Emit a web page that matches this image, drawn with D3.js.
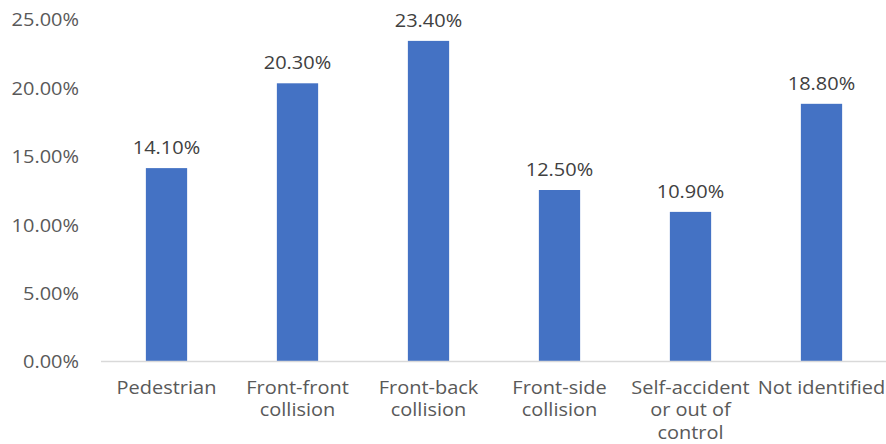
<!DOCTYPE html>
<html>
<head>
<meta charset="utf-8">
<script src="https://cdn.jsdelivr.net/npm/d3@7"></script>
<style>
  html, body { margin: 0; padding: 0; background: #fff; }
  svg text { font-family: "Open Sans", "Noto Sans", sans-serif; }
</style>
</head>
<body>
<svg id="chart" width="886" height="444"></svg>
<script>
// Collision types and their share of accidents
const categories = ["Pedestrian", "Front-front collision", "Front-back collision", "Front-side collision", "Self-accident or out of control", "Not identified"];
const shares = [0.141, 0.203, 0.234, 0.125, 0.109, 0.188];
const yTicks = [0, 0.05, 0.10, 0.15, 0.20, 0.25];

const svg = d3.select("#chart");
const W = 886, H = 444;
const plot = { left: 101, right: 887, top: 19, bottom: 361 };

const x = d3.scaleBand()
  .domain(categories)
  .range([plot.left, plot.right])
  .paddingInner(0.685)
  .paddingOuter(0.3425);

const y = d3.scaleLinear()
  .domain([0, 0.25])
  .range([plot.bottom, plot.top]);

const pct = d3.format(".2%");
const fontSize = 18.5;
const stretchX = 1.08;
const stretch = `scale(${stretchX},1)`;
const fontFamily = "'Open Sans', 'Noto Sans', sans-serif";

// Y axis labels (no axis line, no gridlines)
const yAxis = d3.axisLeft(y).tickValues(yTicks).tickFormat(pct).tickSize(0).tickPadding(0);
const gy = svg.append("g").attr("transform", "translate(79,0)").call(yAxis);
gy.select(".domain").remove();
gy.selectAll("text")
  .attr("fill", "#595959")
  .attr("font-size", fontSize)
  .attr("font-family", fontFamily)
  .attr("dy", "0.37em")
  .attr("transform", stretch);

// Bars
svg.append("g").selectAll("rect")
  .data(categories)
  .join("rect")
  .attr("x", d => x(d))
  .attr("width", x.bandwidth())
  .attr("y", (d, i) => y(shares[i]))
  .attr("height", (d, i) => y(0) - y(shares[i]))
  .attr("fill", "#4472c4");

// Baseline
const xAxis = d3.axisBottom(x).tickSize(0).tickPadding(0);
const gx = svg.append("g").attr("transform", `translate(0,${plot.bottom})`).call(xAxis);
gx.select(".domain").attr("stroke", "#d9d9d9").attr("stroke-width", 1.5)
  .attr("d", `M${plot.left},0.5H${W}`);

// Wrapped category labels
const maxLine = 132 / stretchX;
const lineHeight = 22.5;
gx.selectAll(".tick text").each(function(d) {
  const t = d3.select(this);
  t.text(null)
    .attr("fill", "#595959")
    .attr("font-size", fontSize)
    .attr("font-family", fontFamily)
    .attr("text-anchor", "middle")
    .attr("transform", stretch)
    .attr("y", 0).attr("dy", null);
  const words = d.split(" ");
  let line = [];
  let lineNo = 0;
  let tspan = t.append("tspan").attr("x", 0).attr("y", 33);
  words.forEach(w => {
    line.push(w);
    tspan.text(line.join(" "));
    if (tspan.node().getComputedTextLength() > maxLine && line.length > 1) {
      line.pop();
      tspan.text(line.join(" "));
      line = [w];
      lineNo++;
      tspan = t.append("tspan").attr("x", 0).attr("y", 33 + lineNo * lineHeight).text(w);
    }
  });
});

// Value labels above bars
svg.append("g").selectAll("g")
  .data(categories)
  .join("g")
  .attr("transform", (d, i) => `translate(${x(d) + x.bandwidth() / 2},${y(shares[i]) - 14})`)
  .append("text")
  .attr("text-anchor", "middle")
  .attr("transform", stretch)
  .attr("fill", "#404040")
  .attr("font-size", fontSize)
  .text(d => pct(shares[categories.indexOf(d)]));
</script>
</body>
</html>
